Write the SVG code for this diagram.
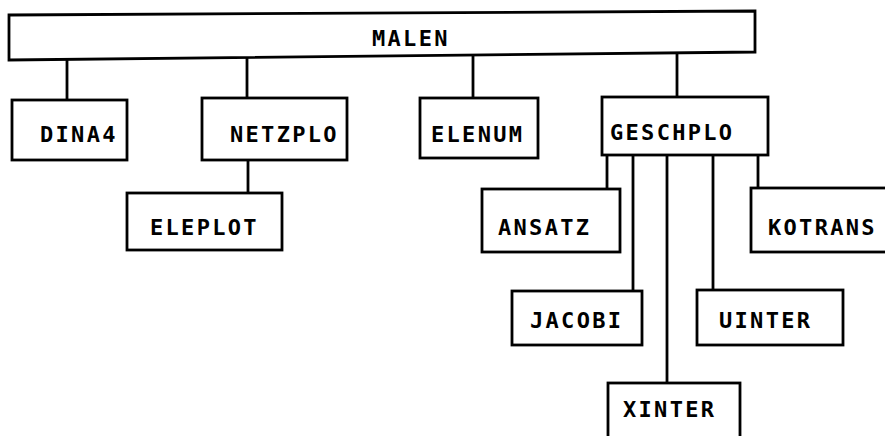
<svg xmlns="http://www.w3.org/2000/svg" width="885" height="436" viewBox="0 0 885 436">
<style>
.box{fill:#fff;stroke:#000;stroke-width:2.8;stroke-linejoin:miter}
.lbl{font-family:"DejaVu Sans Mono",monospace;font-weight:bold;font-size:22px;letter-spacing:2.3px;fill:#000}
#connectors line{stroke:#000;stroke-width:2.8}
</style>
<rect width="885" height="436" fill="#fff"/>
<g id="connectors">
<line x1="67" y1="58" x2="67" y2="100"/>
<line x1="247" y1="57" x2="247" y2="98"/>
<line x1="473" y1="54" x2="473" y2="98"/>
<line x1="677" y1="52" x2="677" y2="97"/>
<line x1="248" y1="160" x2="248" y2="193"/>
<line x1="607" y1="155" x2="607" y2="189"/>
<line x1="633" y1="155" x2="633" y2="291"/>
<line x1="667" y1="155" x2="667" y2="383"/>
<line x1="713" y1="155" x2="713" y2="290"/>
<line x1="758" y1="155" x2="758" y2="188"/>
</g>
<g id="malen">
<polygon class="box" points="9,15 755,11 755,52 9,60"/>
<text class="lbl" x="372" y="46">MALEN</text>
</g>
<g id="dina4">
<rect class="box" x="12" y="100" width="115" height="60"/>
<text class="lbl" x="40" y="142">DINA4</text>
</g>
<g id="netzplo">
<rect class="box" x="202" y="98" width="145" height="62"/>
<text class="lbl" x="230" y="142">NETZPLO</text>
</g>
<g id="elenum">
<rect class="box" x="420" y="98" width="118" height="60"/>
<text class="lbl" x="431" y="142">ELENUM</text>
</g>
<g id="geschplo">
<rect class="box" x="602" y="97" width="166" height="58"/>
<text class="lbl" x="610" y="140">GESCHPLO</text>
</g>
<g id="eleplot">
<rect class="box" x="127" y="193" width="155" height="57"/>
<text class="lbl" x="150" y="235">ELEPLOT</text>
</g>
<g id="ansatz">
<rect class="box" x="482" y="189" width="138" height="63"/>
<text class="lbl" x="498" y="235">ANSATZ</text>
</g>
<g id="kotrans">
<rect class="box" x="751" y="188" width="145" height="64"/>
<text class="lbl" x="768" y="235">KOTRANS</text>
</g>
<g id="jacobi">
<rect class="box" x="512" y="291" width="130" height="54"/>
<text class="lbl" x="530" y="328">JACOBI</text>
</g>
<g id="uinter">
<rect class="box" x="697" y="290" width="146" height="55"/>
<text class="lbl" x="719" y="328">UINTER</text>
</g>
<g id="xinter">
<rect class="box" x="608" y="383" width="132" height="60"/>
<text class="lbl" x="623" y="417">XINTER</text>
</g>
</svg>
